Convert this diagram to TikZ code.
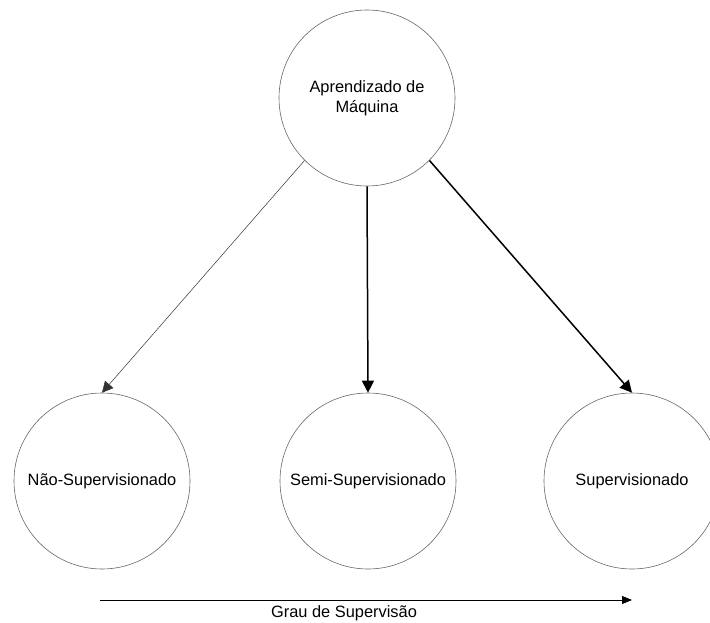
\documentclass[tikz,border=0pt]{standalone}
\usepackage{fontspec}
\setmainfont{Liberation Sans}
\usetikzlibrary{arrows.meta,positioning}

\begin{document}
\begin{tikzpicture}[
  x=1pt, y=-1pt,
  class/.style={circle, draw=black!60, line width=0.6pt, minimum size=176pt, inner sep=0pt, align=center, font=\fontsize{16.4}{20}\selectfont},
  thinarrow/.style={-{Triangle[length=11pt,width=11pt]}, line width=0.5pt, draw=black!80},
  arrow/.style={-{Triangle[length=12pt,width=12pt]}, line width=1.5pt, draw=black}
]
\clip (0,0) rectangle (710,623);

% Root node
\node[class] (ml) at (367,98) {Aprendizado de\\M\'aquina};

% Bottom row - learning types
\node[class] (unsup) at (102,481) {N\~ao-Supervisionado};
\node[class] (semi) at (368,481) {Semi-Supervisionado};
\node[class] (sup) at (632,481) {Supervisionado};

% Arrows from root
\draw[thinarrow] (ml.south west) -- (unsup.north);
\draw[arrow] (ml.south) -- (semi.north);
\draw[arrow] (ml.south east) -- (sup.north);

% Supervision axis
\coordinate (axstart) at (100,600);
\coordinate (axend) at (632,600);
\draw[-{Triangle[length=10pt,width=8pt]}, line width=0.8pt] (axstart) -- (axend);
\node[font=\fontsize{16.4}{20}\selectfont] (axlabel) at (344,613) {Grau de Supervis\~ao};

\end{tikzpicture}
\end{document}
